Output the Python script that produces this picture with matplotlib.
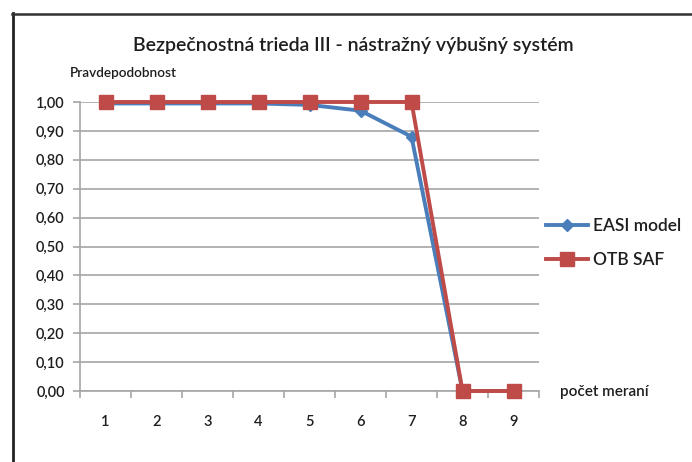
import matplotlib
matplotlib.use("Agg")
import matplotlib.pyplot as plt
from matplotlib.lines import Line2D

# Data
categories = [1, 2, 3, 4, 5, 6, 7, 8, 9]
easi_model = [0.995, 0.995, 0.995, 0.995, 0.99, 0.97, 0.88, 0.00, 0.00]
otb_saf = [1.00, 1.00, 1.00, 1.00, 1.00, 1.00, 1.00, 0.00, 0.00]
y_ticks = [0.0, 0.1, 0.2, 0.3, 0.4, 0.5, 0.6, 0.7, 0.8, 0.9, 1.0]
y_tick_labels = ["0,00", "0,10", "0,20", "0,30", "0,40", "0,50",
                 "0,60", "0,70", "0,80", "0,90", "1,00"]

title = "Bezpečnostná trieda III - nástražný výbušný systém"
y_label = "Pravdepodobnost"
x_label = "počet meraní"

BLUE = "#4A7EBB"
RED = "#BE4B48"
GRID = "#A6A6A6"
TEXT = "#1E1E1E"

plt.rcParams["font.family"] = ["Lato", "DejaVu Sans"]

W, H = 692, 462
fig = plt.figure(figsize=(W / 100, H / 100), dpi=100)
fig.patch.set_facecolor("white")

# Outer chart frame (left and top edges)
fig.add_artist(Line2D([13 / W, 13 / W], [0, 1 - 13 / H], transform=fig.transFigure,
                      color="#222222", lw=2.0))
fig.add_artist(Line2D([12 / W, 1], [1 - 14 / H, 1 - 14 / H], transform=fig.transFigure,
                      color="#333333", lw=1.8))

ax = fig.add_axes([80 / W, (H - 391) / H, 459 / W, 289 / H])
ax.set_xlim(0.5, 9.5)
ax.set_ylim(0, 1)

ax.set_yticks(y_ticks)
ax.set_yticklabels(y_tick_labels, fontsize=10.5, color=TEXT, fontweight="semibold")
ax.yaxis.grid(True, color=GRID, lw=1.2)
ax.set_axisbelow(True)

ax.set_xticks(categories)
ax.set_xticklabels([str(c) for c in categories], fontsize=10.5, color=TEXT,
                   fontweight="semibold")
ax.tick_params(axis="x", which="major", length=0, pad=17)
ax.set_xticks([c + 0.5 for c in [0] + categories], minor=True)
ax.tick_params(axis="x", which="minor", length=5, color=GRID, width=1.2, direction="out")
ax.tick_params(axis="y", length=5, color=GRID, width=1.2, direction="out", pad=6)

for side in ["top", "right"]:
    ax.spines[side].set_visible(False)
for side in ["left", "bottom"]:
    ax.spines[side].set_color(GRID)
    ax.spines[side].set_linewidth(1.2)

ax.plot(categories, easi_model, color=BLUE, lw=2.8, marker="D", markersize=6,
        markeredgecolor=BLUE, label="EASI model", clip_on=False, zorder=3)
ax.plot(categories, otb_saf, color=RED, lw=2.8, marker="s", markersize=10,
        markeredgecolor=RED, label="OTB SAF", clip_on=False, zorder=4)

fig.text(353 / W, 1 - 46 / H, title, ha="center", va="center", fontsize=14,
         color=TEXT, fontweight="semibold")
fig.text(70 / W, 1 - 73 / H, y_label, ha="left", va="center", fontsize=9.8,
         color=TEXT, fontweight="semibold")
fig.text(560 / W, 1 - 392 / H, x_label, ha="left", va="center", fontsize=11,
         color=TEXT, fontweight="semibold")

leg = ax.legend(loc="upper left", bbox_to_anchor=(546 / W, 1 - 218 / H),
                bbox_transform=fig.transFigure, frameon=False,
                prop={"size": 12.5, "weight": "semibold"},
                handlelength=2.4, handletextpad=0.3, labelspacing=1.05,
                borderaxespad=0, borderpad=0)
for t in leg.get_texts():
    t.set_color(TEXT)

fig.savefig("out.png", dpi=100, facecolor="white")
